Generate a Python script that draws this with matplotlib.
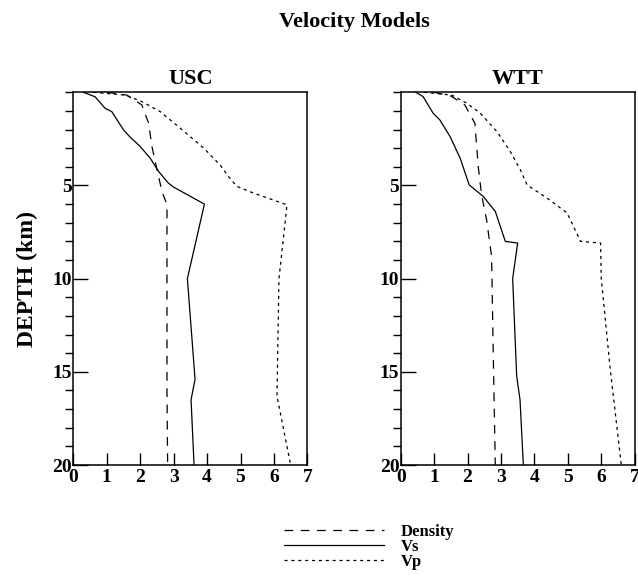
import matplotlib
matplotlib.use('Agg')
import matplotlib.pyplot as plt
from matplotlib.lines import Line2D
from matplotlib.ticker import MultipleLocator

plt.rcParams['font.family'] = ['Liberation Serif', 'DejaVu Serif']
plt.rcParams['font.weight'] = 'bold'

# USC model (depth in km)
usc_vs_depth = [0, 0.24, 0.86, 1.04, 2.02, 2.41, 2.91, 3.54, 4.25, 4.87, 5.09, 6.0, 10.0, 15.4, 16.5, 20]
usc_vs = [0.3, 0.65, 0.95, 1.15, 1.5, 1.7, 2.0, 2.3, 2.55, 2.84, 3.0, 3.92, 3.41, 3.64, 3.52, 3.61]
usc_rho_depth = [0, 0.15, 0.68, 1.66, 2.91, 3.98, 5.32, 6.03, 16.0, 20]
usc_rho = [1.0, 1.6, 2.05, 2.25, 2.35, 2.48, 2.65, 2.8, 2.8, 2.82]
usc_vp_depth = [0, 0.15, 0.5, 1.04, 1.93, 3.0, 3.9, 4.52, 5.05, 5.41, 6.04, 10.0, 16.3, 20]
usc_vp = [0.6, 1.55, 2.05, 2.6, 3.2, 3.9, 4.39, 4.64, 4.89, 5.39, 6.39, 6.15, 6.09, 6.5]

# WTT model
wtt_vs_depth = [0, 0.23, 1.12, 1.48, 2.38, 3.54, 4.97, 5.59, 6.39, 8.0, 8.09, 10.0, 15.23, 16.5, 20]
wtt_vs = [0.45, 0.67, 0.97, 1.17, 1.48, 1.78, 2.05, 2.47, 2.83, 3.13, 3.5, 3.35, 3.47, 3.57, 3.67]
wtt_rho_depth = [0, 0.2, 0.68, 1.66, 3.98, 5.5, 6.84, 8.8, 12.0, 20]
wtt_rho = [1.0, 1.5, 1.92, 2.22, 2.32, 2.42, 2.57, 2.72, 2.75, 2.83]
wtt_vp_depth = [0, 0.15, 0.59, 1.12, 2.11, 3.18, 4.16, 4.97, 5.68, 6.48, 8.0, 8.09, 10.0, 14.87, 20]
wtt_vp = [0.7, 1.53, 1.98, 2.38, 2.88, 3.28, 3.58, 3.78, 4.38, 4.98, 5.38, 5.98, 6.0, 6.27, 6.6]

models = [
    ('USC', usc_rho_depth, usc_rho, usc_vs_depth, usc_vs, usc_vp_depth, usc_vp),
    ('WTT', wtt_rho_depth, wtt_rho, wtt_vs_depth, wtt_vs, wtt_vp_depth, wtt_vp),
]

dashed = (0, (7, 6))
dotted = (0, (2.5, 3))

fig = plt.figure(figsize=(6.38, 5.83), dpi=100)
lefts = [0.115, 0.628]
for left, (name, rd, rho, sd, vs, pd, vp) in zip(lefts, models):
    ax = fig.add_axes([left, 0.2024, 0.3668, 0.6393])
    ax.plot(rho, rd, color='black', lw=0.9, linestyle=dashed)
    ax.plot(vs, sd, color='black', lw=0.9)
    ax.plot(vp, pd, color='black', lw=0.9, linestyle=dotted)
    ax.set_xlim(0, 7)
    ax.set_ylim(20, 0)
    ax.set_xticks(range(8))
    ax.set_yticks([5, 10, 15, 20])
    ax.yaxis.set_minor_locator(MultipleLocator(1))
    ax.tick_params(direction='in', top=False, right=False, labelsize=14, pad=1)
    ax.tick_params(axis='x', length=9, width=1, pad=3)
    ax.tick_params(axis='y', which='major', length=11, width=1)
    ax.tick_params(axis='y', which='minor', length=6, width=1)
    for lab in ax.get_xticklabels() + ax.get_yticklabels():
        lab.set_fontweight('bold')
    for sp in ax.spines.values():
        sp.set_linewidth(1.1)
    ax.set_title(name, fontsize=16, fontweight='bold', pad=6)
    if name == 'USC':
        ax.set_ylabel('DEPTH (km)', fontsize=17, fontweight='bold', labelpad=10)

fig.text(0.555, 0.963, 'Velocity Models', ha='center', va='center', fontsize=16, fontweight='bold')

handles = [Line2D([], [], color='black', lw=0.9, linestyle=dashed),
           Line2D([], [], color='black', lw=0.9),
           Line2D([], [], color='black', lw=0.9, linestyle=dotted)]
fig.legend(handles, ['Density', 'Vs', 'Vp'], loc='upper left', bbox_to_anchor=(0.445, 0.102),
           frameon=False, prop={'weight': 'bold', 'size': 12}, handlelength=6.0,
           handletextpad=1.0, labelspacing=-0.05, borderaxespad=0, borderpad=0)

fig.savefig('out.png', dpi=100)
